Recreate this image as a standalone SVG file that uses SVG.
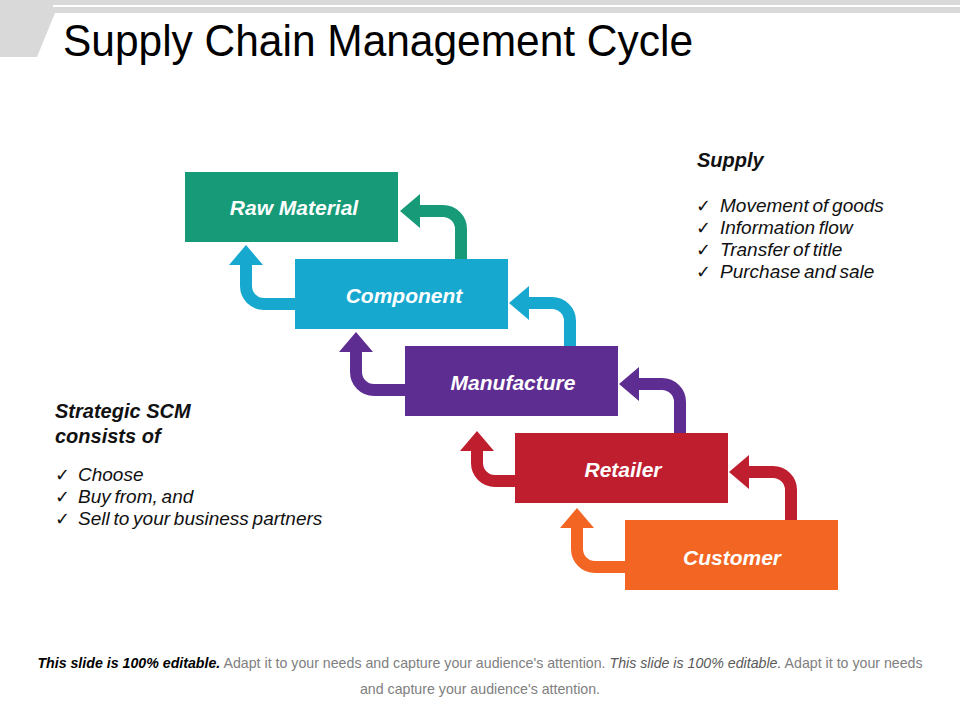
<svg xmlns="http://www.w3.org/2000/svg" width="960" height="720" viewBox="0 0 960 720">
<style>
.box{stroke:none}
.lbl{font-family:"Liberation Sans",Arial,sans-serif;font-weight:bold;font-style:italic;font-size:21px;fill:#fff;text-anchor:middle}
.hd{font-family:"Liberation Sans",Arial,sans-serif;font-weight:bold;font-style:italic;font-size:20px;fill:#111}
.it{font-family:"Liberation Sans",Arial,sans-serif;font-style:italic;font-size:19px;fill:#111;word-spacing:-1.5px}
.ck{font-family:"DejaVu Sans",sans-serif;font-size:18px;fill:#111}
.foot{font-family:"Liberation Sans",Arial,sans-serif;font-size:14.2px;fill:#808080;text-anchor:middle}
.sh{fill:none;stroke-width:12}
</style>
<defs>
<marker id="hGreen" markerUnits="userSpaceOnUse" markerWidth="20" markerHeight="34" refX="0" refY="17" orient="auto"><path d="M0,0 L20,17 L0,34 Z" fill="#169a78"/></marker>
<marker id="hBlue" markerUnits="userSpaceOnUse" markerWidth="20" markerHeight="34" refX="0" refY="17" orient="auto"><path d="M0,0 L20,17 L0,34 Z" fill="#17a8d0"/></marker>
<marker id="hPurple" markerUnits="userSpaceOnUse" markerWidth="20" markerHeight="34" refX="0" refY="17" orient="auto"><path d="M0,0 L20,17 L0,34 Z" fill="#5e2d91"/></marker>
<marker id="hRed" markerUnits="userSpaceOnUse" markerWidth="20" markerHeight="34" refX="0" refY="17" orient="auto"><path d="M0,0 L20,17 L0,34 Z" fill="#be1e2e"/></marker>
<marker id="hOrange" markerUnits="userSpaceOnUse" markerWidth="20" markerHeight="34" refX="0" refY="17" orient="auto"><path d="M0,0 L20,17 L0,34 Z" fill="#f26522"/></marker>
</defs>
<rect width="960" height="720" fill="#fff"/>
<g id="header">
<polygon points="0,0 960,0 960,13 55,13 37,57 0,57" fill="#d9d9d9"/>
<rect x="53" y="5" width="907" height="2" fill="#fff"/>
<text x="63" y="56" font-family="Liberation Sans, Arial, sans-serif" font-size="45" fill="#000" textLength="630" lengthAdjust="spacingAndGlyphs">Supply Chain Management Cycle</text>
</g>
<g id="connectors">
<path class="sh" stroke="#169a78" d="M461,259 V229 A18,18 0 0 0 443,211 H420" marker-end="url(#hGreen)"/>
<path class="sh" stroke="#17a8d0" d="M570,346 V321 A18,18 0 0 0 552,303 H529" marker-end="url(#hBlue)"/>
<path class="sh" stroke="#5e2d91" d="M680,433 V402 A18,18 0 0 0 662,384 H639" marker-end="url(#hPurple)"/>
<path class="sh" stroke="#be1e2e" d="M791,520 V490 A18,18 0 0 0 773,472 H749" marker-end="url(#hRed)"/>
<path class="sh" stroke="#17a8d0" d="M295,304 H264 A18,18 0 0 1 246,286 V265" marker-end="url(#hBlue)"/>
<path class="sh" stroke="#5e2d91" d="M405,390 H374 A18,18 0 0 1 356,372 V352" marker-end="url(#hPurple)"/>
<path class="sh" stroke="#be1e2e" d="M515,481 H495 A18,18 0 0 1 477,463 V451" marker-end="url(#hRed)"/>
<path class="sh" stroke="#f26522" d="M625,567 H595 A18,18 0 0 1 577,549 V528" marker-end="url(#hOrange)"/>
</g>
<g id="raw-material">
<rect class="box" x="185" y="172" width="213" height="70" fill="#169a78"/>
<text class="lbl" x="294" y="215">Raw Material</text>
</g>
<g id="component">
<rect class="box" x="295" y="259" width="213" height="70" fill="#17a8d0"/>
<text class="lbl" x="404" y="303">Component</text>
</g>
<g id="manufacture">
<rect class="box" x="405" y="346" width="213" height="70" fill="#5e2d91"/>
<text class="lbl" x="513" y="390">Manufacture</text>
</g>
<g id="retailer">
<rect class="box" x="515" y="433" width="213" height="70" fill="#be1e2e"/>
<text class="lbl" x="623" y="477">Retailer</text>
</g>
<g id="customer">
<rect class="box" x="625" y="520" width="213" height="70" fill="#f26522"/>
<text class="lbl" x="732" y="565">Customer</text>
</g>
<g id="supply-notes">
<text class="hd" x="697" y="167">Supply</text>
<text class="ck" x="696" y="212">✓</text><text class="it" x="720" y="212">Movement of goods</text>
<text class="ck" x="696" y="234">✓</text><text class="it" x="720" y="234">Information flow</text>
<text class="ck" x="696" y="256">✓</text><text class="it" x="720" y="256">Transfer of title</text>
<text class="ck" x="696" y="278">✓</text><text class="it" x="720" y="278">Purchase and sale</text>
</g>
<g id="strategic-notes">
<text class="hd" x="55" y="418">Strategic SCM</text>
<text class="hd" x="55" y="443">consists of</text>
<text class="ck" x="55" y="481">✓</text><text class="it" x="78" y="481">Choose</text>
<text class="ck" x="55" y="503">✓</text><text class="it" x="78" y="503">Buy from, and</text>
<text class="ck" x="55" y="525">✓</text><text class="it" x="78" y="525">Sell to your business partners</text>
</g>
<g id="footer">
<text class="foot" x="480" y="668"><tspan font-weight="bold" font-style="italic" fill="#000">This slide is 100% editable.</tspan> Adapt it to your needs and capture your audience's attention. <tspan font-style="italic" fill="#595959">This slide is 100% editable.</tspan> Adapt it to your needs</text>
<text class="foot" x="480" y="694">and capture your audience's attention.</text>
</g>
</svg>
